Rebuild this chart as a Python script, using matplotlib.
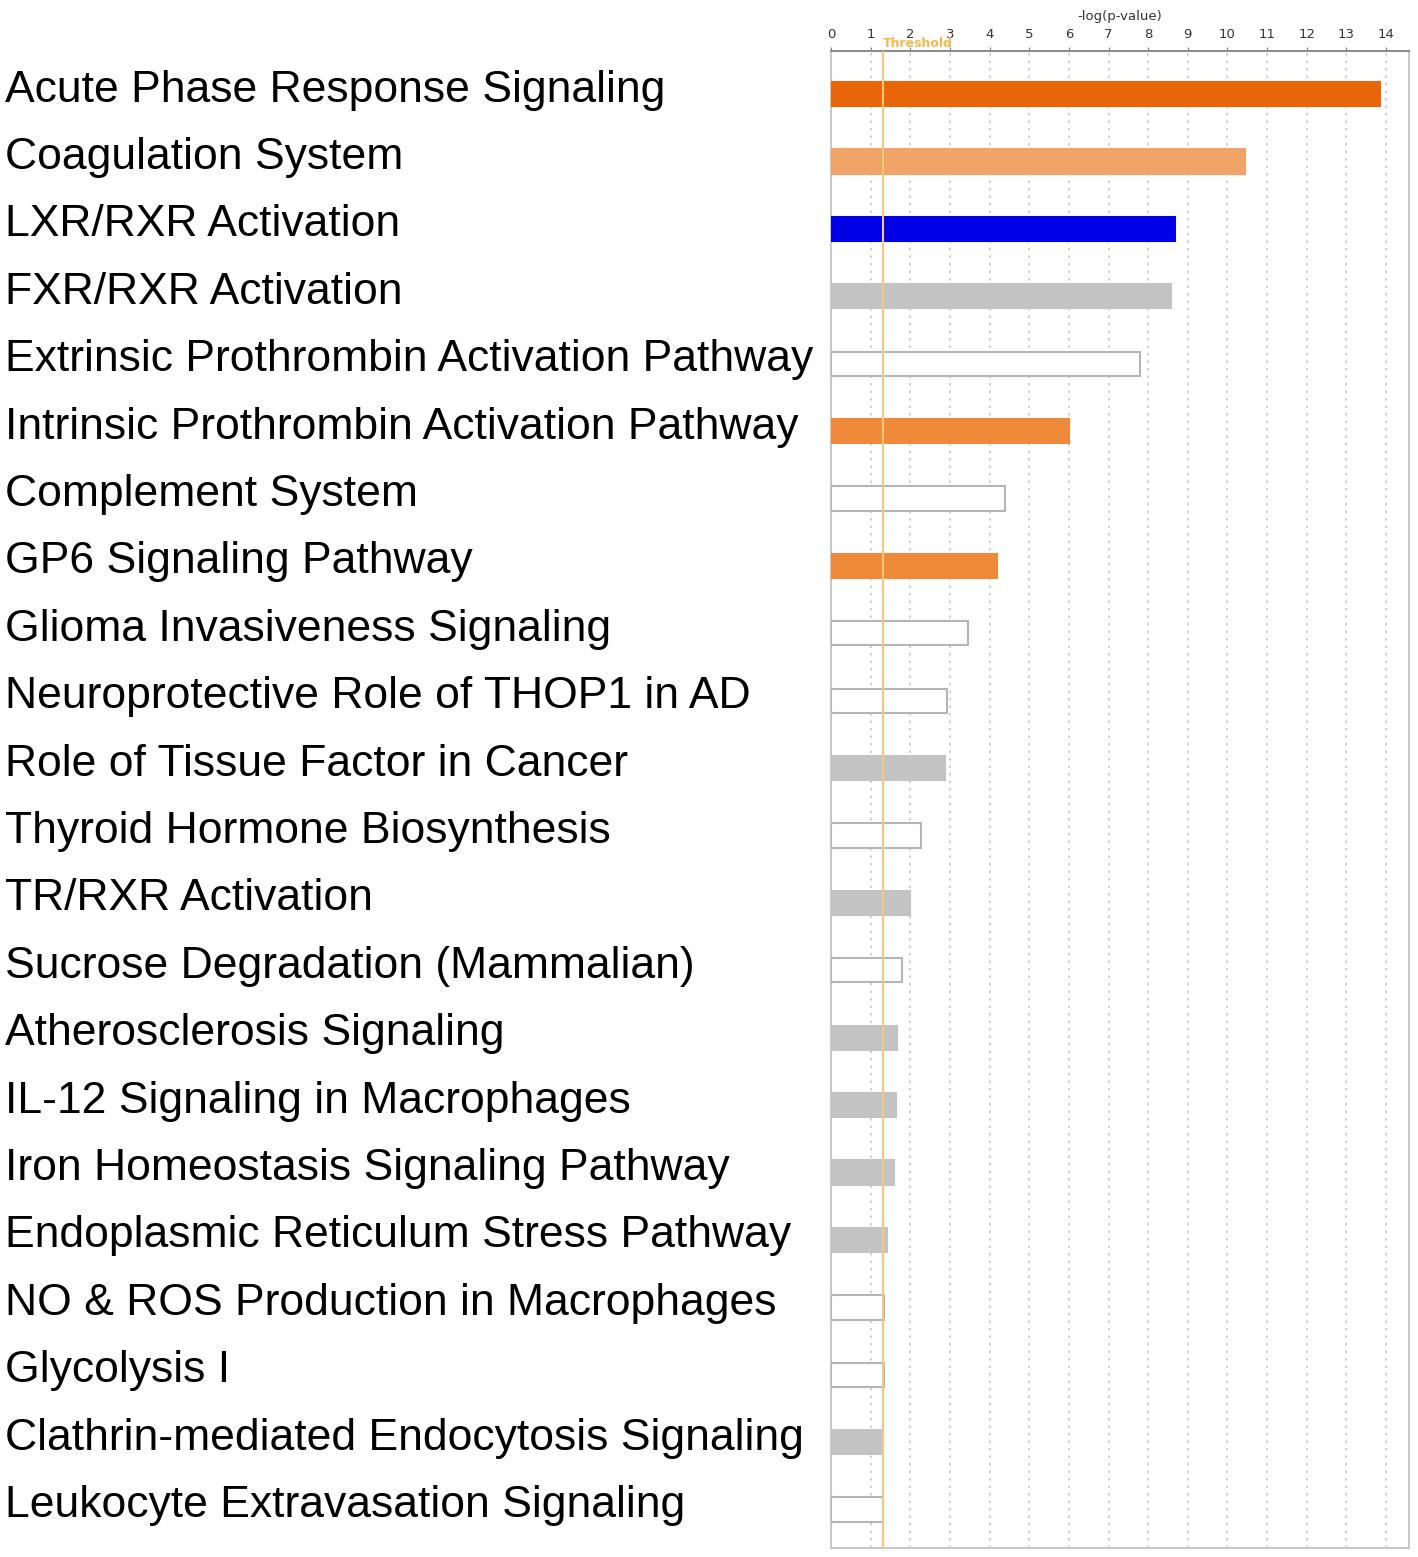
import matplotlib
matplotlib.use("Agg")
import matplotlib.pyplot as plt
import matplotlib.transforms as mtransforms

# pathways, top to bottom
pathways = ["Acute Phase Response Signaling", "Coagulation System",
            "LXR/RXR Activation", "FXR/RXR Activation",
            "Extrinsic Prothrombin Activation Pathway",
            "Intrinsic Prothrombin Activation Pathway", "Complement System",
            "GP6 Signaling Pathway", "Glioma Invasiveness Signaling",
            "Neuroprotective Role of THOP1 in AD",
            "Role of Tissue Factor in Cancer", "Thyroid Hormone Biosynthesis",
            "TR/RXR Activation", "Sucrose Degradation (Mammalian)",
            "Atherosclerosis Signaling", "IL-12 Signaling in Macrophages",
            "Iron Homeostasis Signaling Pathway",
            "Endoplasmic Reticulum Stress Pathway",
            "NO & ROS Production in Macrophages", "Glycolysis I",
            "Clathrin-mediated Endocytosis Signaling",
            "Leukocyte Extravasation Signaling"]
neglogp = [13.85, 10.44, 8.68, 8.58, 7.80, 6.00, 4.39, 4.19, 3.46, 2.93,
           2.88, 2.27, 1.99, 1.79, 1.66, 1.64, 1.59, 1.41, 1.34, 1.34,
           1.31, 1.31]
fills = ["#E8650A", "#F0A468", "#0000E6", "#C3C3C3", "white", "#EE8A3A",
         "white", "#EE8A3A", "white", "white", "#C3C3C3", "white",
         "#C3C3C3", "white", "#C3C3C3", "#C3C3C3", "#C3C3C3", "#C3C3C3",
         "white", "white", "#C3C3C3", "white"]
threshold = 1.3

fig = plt.figure(figsize=(14.18, 15.57), dpi=100)
ax = fig.add_axes([831/1418, 1 - 1548/1557, (1409 - 831)/1418, (1548 - 51)/1557])

ypos = list(range(len(pathways)))
edges = ["#B5B5B5" if c == "white" else c for c in fills]
ax.barh(ypos, neglogp, height=0.36, color=fills, edgecolor=edges,
        linewidth=1.5, zorder=3)

ax.axvline(threshold, color="#F7C77A", linewidth=1.5, zorder=4)

ax.set_xlim(0, 14.58)
ax.set_ylim(21.57, -0.64)
ax.set_xticks(range(15))
ax.xaxis.tick_top()
ax.xaxis.set_label_position("top")
ax.tick_params(axis="x", labelsize=9.5, colors="#7A7A7A", labelcolor="#333333",
               length=3, pad=4)
ax.set_xlabel("-log(p-value)", fontsize=9.5, color="#333333", labelpad=6)
ax.set_yticks([])
ax.grid(axis="x", color="#C8C8C8", linestyle=(0, (1.5, 3)), linewidth=1.2, zorder=0)

for side in ["left", "right", "bottom"]:
    ax.spines[side].set_color("#C8C8C8")
    ax.spines[side].set_linewidth(1.5)
ax.spines["top"].set_color("#8C8C8C")
ax.spines["top"].set_linewidth(1.5)

ax.text(threshold, 1.0005, "Threshold", transform=mtransforms.blended_transform_factory(ax.transData, ax.transAxes),
        fontsize=9, color="#F5B84A", fontweight="bold", ha="left", va="bottom")

lab_tr = mtransforms.blended_transform_factory(fig.transFigure, ax.transData)
for y, name in zip(ypos, pathways):
    ax.text(5/1418, y - 0.06, name, transform=lab_tr, fontsize=32,
            family="Liberation Sans", ha="left", va="center", color="black")

fig.savefig("out.png", dpi=100)
